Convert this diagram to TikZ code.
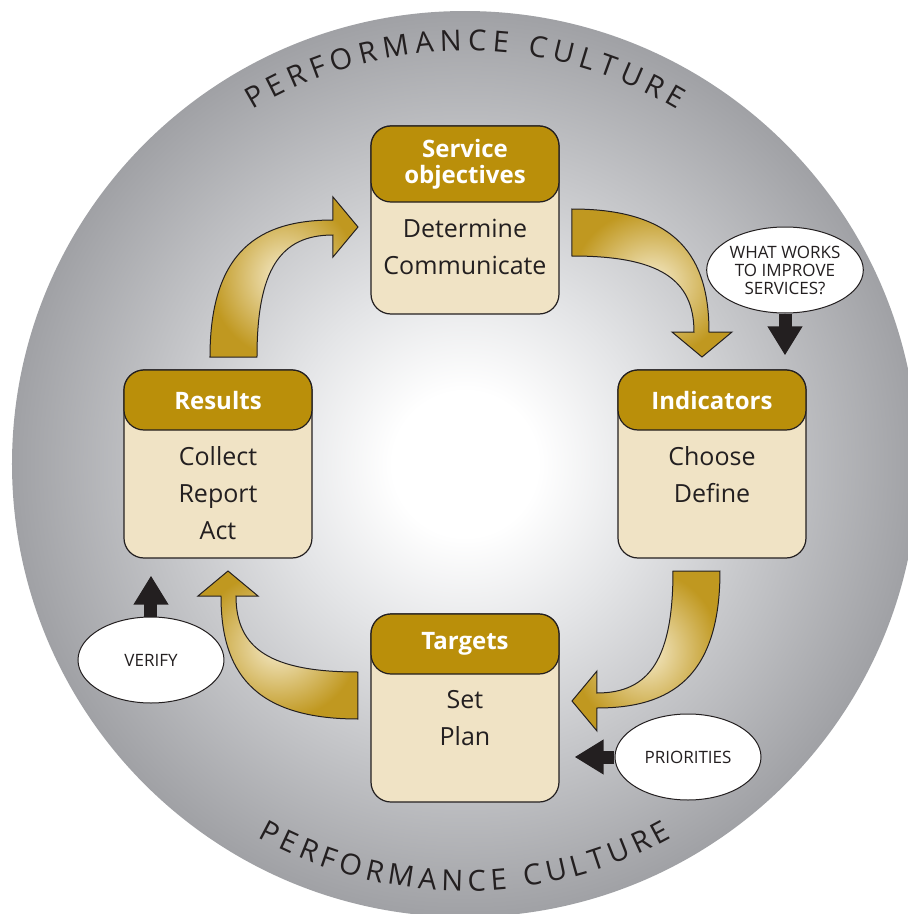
\documentclass[tikz,border=0pt]{standalone}
\usepackage{fontspec}
\setmainfont{Open Sans}
\usetikzlibrary{positioning,arrows.meta,decorations.text,shapes.geometric}
\definecolor{gold}{RGB}{186,143,10}
\definecolor{cream}{RGB}{240,227,197}
\definecolor{goldlt}{RGB}{246,236,205}
\definecolor{golddk}{RGB}{192,152,32}
\definecolor{rim}{RGB}{160,161,165}
\definecolor{mid}{RGB}{198,199,202}
\definecolor{pale}{RGB}{228,229,231}
\definecolor{ink}{RGB}{35,31,32}
\pgfdeclareradialshading{disc}{\pgfpoint{0bp}{0bp}}{color(0bp)=(white); color(4bp)=(white); color(10bp)=(pale); color(16.5bp)=(mid); color(25bp)=(rim); color(50bp)=(rim)}
\tikzset{
  card/.style={draw=ink, line width=1.2pt, fill=cream, rounded corners=20pt, minimum width=188pt, minimum height=188pt},
  cardhead/.style={draw=ink, line width=1.2pt, fill=gold, rounded corners=20pt, minimum width=188pt, minimum height=60pt, text=white, font=\fontsize{24}{26}\selectfont\bfseries, align=center, anchor=north},
  cardbody/.style={font=\fontsize{25}{37}\selectfont, text=ink, align=center, inner sep=0pt, below=16pt of #1},
  bubble/.style={ellipse, draw=ink, line width=1pt, fill=white, minimum width=146pt, minimum height=86pt, inner sep=0pt, font=\fontsize{17}{18}\selectfont, text=ink, align=center},
  pointer/.style={ink, line width=13pt, -{Triangle[length=29pt,width=33pt]}},
  goldarrow/.pic={\shade[draw=ink, line width=1pt, inner color=goldlt, outer color=golddk]
    (-255,107) .. controls (-255,214) and (-205,244) .. (-132,244) -- (-132,267) -- (-107,237)
    -- (-132,207) -- (-132,229) .. controls (-185,229) and (-208,194) .. (-208,107) -- cycle;},
  arctext/.style={decorate, decoration={text along path, text align={fit to path},
    text={|\fontsize{29}{29}\selectfont\color{ink}|PERFORMANCE CULTURE}}}
}
\begin{document}
\begin{tikzpicture}[x=1pt,y=1pt]
\useasboundingbox (-465,-450) rectangle (443,464);
\clip (-465,-450) rectangle (443,464);
\shade[shading=disc] (0,0) circle (453);
% lettering round the rim
\path[arctext] (121:413) arc[start angle=121, end angle=59, radius=413];
\path[arctext] (241:427) arc[start angle=241, end angle=299, radius=427];
% curved arrows between the cards
\foreach \r in {0,-90,-180,-270} \pic[rotate=\r] at (0,0) {goldarrow};
% the four cards
\node[card] (svc) at (0,244) {};
\node[card] (ind) at (247,0) {};
\node[card] (tgt) at (0,-244) {};
\node[card] (res) at (-247,0) {};
\node[cardhead, minimum height=76pt] (svc-h) at (svc.north) {Service\\objectives};
\node[cardhead] (ind-h) at (ind.north) {Indicators};
\node[cardhead] (tgt-h) at (tgt.north) {Targets};
\node[cardhead] (res-h) at (res.north) {Results};
\node[cardbody=svc-h] (svc-t) {Determine\\Communicate};
\node[cardbody=ind-h] (ind-t) {Choose\\Define};
\node[cardbody=tgt-h] (tgt-t) {Set\\Plan};
\node[cardbody=res-h] (res-t) {Collect\\Report\\Act};
% outside inputs
\node[bubble] (works) at (320,194) {WHAT WORKS\\TO IMPROVE\\SERVICES?};
\node[bubble] (prio) at (223,-293) {PRIORITIES};
\node[bubble] (verify) at (-314,-196) {VERIFY};
\draw[pointer, shorten >=14pt] (works.south) -- (works.south |- ind.north);
\draw[pointer, shorten >=15pt] (prio.west) -- (prio.west -| tgt.east);
\draw[pointer, shorten >=17pt] (verify.north) -- (verify.north |- res.south);
\end{tikzpicture}
\end{document}
